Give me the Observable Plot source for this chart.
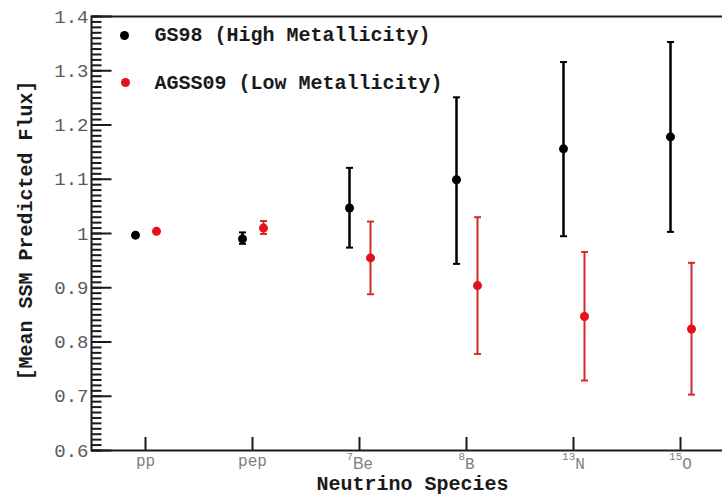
<!DOCTYPE html>
<html><head><meta charset="utf-8">
<script src="https://cdn.jsdelivr.net/npm/d3@7"></script>
<script src="https://cdn.jsdelivr.net/npm/@observablehq/plot@0.6"></script>
<style>
body{margin:0;background:#fff}
#chart{width:722px;height:494px;overflow:hidden}
</style>
</head><body><div id="chart"></div>
<script>
// ---- data ----
const species     = ["pp", "pep", "7Be", "8B", "13N", "15O"];
const speciesSup  = ["", "", "7", "8", "13", "15"];
const speciesBase = ["pp", "pep", "Be", "B", "N", "O"];

const gs98      = [0.997, 0.990, 1.047, 1.099, 1.156, 1.178];
const gs98Low   = [0.995, 0.981, 0.974, 0.944, 0.995, 1.003];
const gs98High  = [0.999, 1.002, 1.121, 1.251, 1.316, 1.353];

const agss09     = [1.004, 1.010, 0.955, 0.904, 0.847, 0.824];
const agss09Low  = [1.002, 0.999, 0.888, 0.778, 0.729, 0.703];
const agss09High = [1.006, 1.023, 1.022, 1.030, 0.966, 0.946];

const seriesNames = ["GS98 (High Metallicity)", "AGSS09 (Low Metallicity)"];
const yTicks = [0.6, 0.7, 0.8, 0.9, 1, 1.1, 1.2, 1.3, 1.4];
const xTitle = "Neutrino Species";
const yTitle = "[Mean SSM Predicted Flux]";

// ---- tables ----
const rowsGS = species.map((s, i) => ({species: s, value: gs98[i], low: gs98Low[i], high: gs98High[i]}));
const rowsAG = species.map((s, i) => ({species: s, value: agss09[i], low: agss09Low[i], high: agss09High[i]}));
const minorTicks = d3.ticks(0.6, 1.4, 80);

const BLACK = "#000000", RED = "#e4101a", RED_BAR = "#d32a2a", AXIS = "#1a1a1a";
const MONO = "'Liberation Mono', 'DejaVu Sans Mono', monospace";

// symbol shapes: centered horizontal cap, and an inward (rightward) tick
const cap = {draw(ctx, size) { const w = Math.sqrt(size / Math.PI); ctx.moveTo(-w, 0); ctx.lineTo(w, 0); }};
const tickRight = {draw(ctx, size) { const w = Math.sqrt(size / Math.PI); ctx.moveTo(0, 0); ctx.lineTo(w, 0); }};

const chart = Plot.plot({
  width: 722,
  height: 494,
  marginLeft: 91,
  marginRight: -11,
  marginTop: 16,
  marginBottom: 44,
  style: {fontFamily: MONO, background: "#fff", overflow: "hidden"},
  x: {type: "point", domain: species, padding: 0.5, axis: null},
  y: {domain: [0.6, 1.4], axis: null},
  marks: [
    Plot.frame({stroke: AXIS, strokeWidth: 2, fill: "none"}),
    // inward ticks
    Plot.dot(minorTicks, {x: null, y: d => d, frameAnchor: "left", symbol: tickRight, r: 10, stroke: AXIS, strokeWidth: 2}),
    Plot.dot(yTicks, {x: null, y: d => d, frameAnchor: "left", symbol: tickRight, r: 20, stroke: AXIS, strokeWidth: 2}),
    Plot.axisX(species, {anchor: "bottom", tickSize: 13, dy: -13, strokeWidth: 2, color: AXIS, tickFormat: () => "", label: null}),
    // y tick labels
    Plot.axisY(yTicks, {anchor: "left", tickSize: 0, tickPadding: 3, fontSize: 19, color: "#5a5a5a", tickFormat: d => String(d), label: null}),
    // x tick labels
    Plot.text(species, {x: d => d, text: d => d, frameAnchor: "bottom", lineAnchor: "middle", dy: 10, fontSize: 16, fill: "#808080"}),
    // titles
    Plot.text([xTitle], {frameAnchor: "bottom", lineAnchor: "middle", textAnchor: "middle", text: d => d, dy: 33, fontSize: 20, fontWeight: "bold", fill: AXIS}),
    Plot.text([yTitle], {frameAnchor: "left", lineAnchor: "middle", textAnchor: "middle", text: d => d, rotate: -90, dx: -66, dy: -3, fontSize: 20, fontWeight: "bold", fill: AXIS}),
    // GS98 series
    Plot.ruleX(rowsGS, {x: "species", y1: "low", y2: "high", stroke: BLACK, strokeWidth: 2.5, dx: -10}),
    Plot.dot(rowsGS, {x: "species", y: "low", symbol: cap, r: 3.5, stroke: BLACK, strokeWidth: 2, dx: -10}),
    Plot.dot(rowsGS, {x: "species", y: "high", symbol: cap, r: 3.5, stroke: BLACK, strokeWidth: 2, dx: -10}),
    Plot.dot(rowsGS, {x: "species", y: "value", r: 4.5, fill: BLACK, dx: -10}),
    // AGSS09 series
    Plot.ruleX(rowsAG, {x: "species", y1: "low", y2: "high", stroke: RED_BAR, strokeWidth: 2, dx: 11}),
    Plot.dot(rowsAG, {x: "species", y: "low", symbol: cap, r: 3.5, stroke: RED_BAR, strokeWidth: 2, dx: 11}),
    Plot.dot(rowsAG, {x: "species", y: "high", symbol: cap, r: 3.5, stroke: RED_BAR, strokeWidth: 2, dx: 11}),
    Plot.dot(rowsAG, {x: "species", y: "value", r: 4.5, fill: RED, dx: 11}),
    // legend
    Plot.dot([seriesNames[0]], {x: null, y: null, frameAnchor: "top-left", dx: 33, dy: 19, r: 4.5, fill: BLACK}),
    Plot.dot([seriesNames[1]], {x: null, y: null, frameAnchor: "top-left", dx: 34, dy: 66, r: 4.5, fill: RED}),
    Plot.text([seriesNames[0]], {frameAnchor: "top-left", lineAnchor: "middle", textAnchor: "start", text: d => d, dx: 63, dy: 18, fontSize: 20, fontWeight: "bold", fill: AXIS}),
    Plot.text([seriesNames[1]], {frameAnchor: "top-left", lineAnchor: "middle", textAnchor: "start", text: d => d, dx: 63, dy: 66, fontSize: 20, fontWeight: "bold", fill: AXIS})
  ]
});

document.getElementById("chart").appendChild(chart);

// superscript mass numbers on the species labels
d3.select(chart).selectAll("text").each(function() {
  if (this.querySelector("tspan")) return;
  const i = species.indexOf(this.textContent);
  if (i < 0 || !speciesSup[i]) return;
  const t = d3.select(this);
  t.text(null);
  t.append("tspan").attr("font-size", 11).attr("dy", -6).text(speciesSup[i]);
  t.append("tspan").attr("dy", 9)
    .attr("font-family", speciesBase[i] === "Be" ? "'Liberation Sans', Arial, sans-serif" : null)
    .text(speciesBase[i]);
});
</script>
</body></html>
